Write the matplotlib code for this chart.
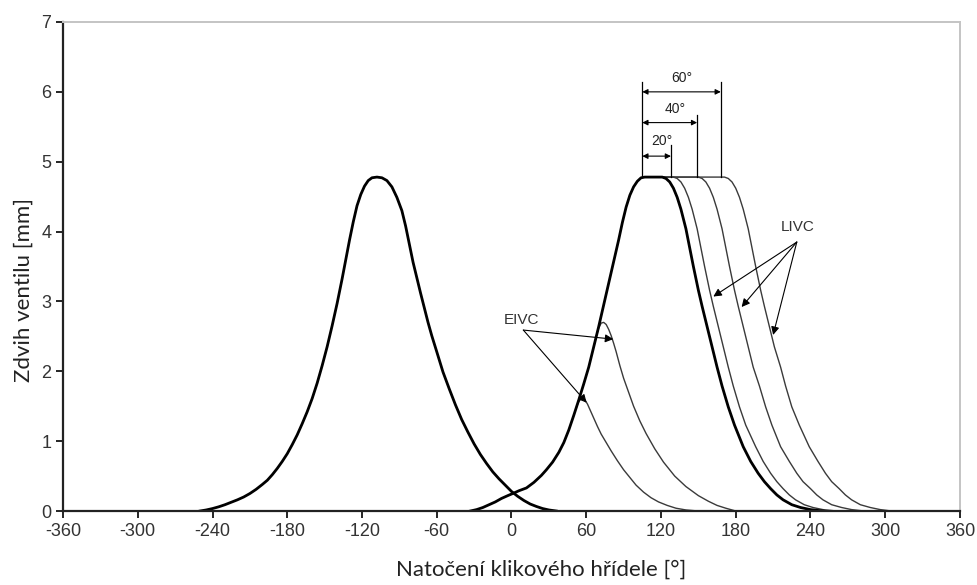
import matplotlib
matplotlib.use("Agg")
import matplotlib.pyplot as plt

plt.rcParams["axes.unicode_minus"] = False

# exhaust valve lift
exh_x = [-250, -245, -240, -235, -230, -225, -220, -215, -210, -205, -200, -196, -192, -188,
         -184, -180, -176, -172, -168, -164, -160, -156, -152, -148, -144, -140, -136, -133,
         -130, -127, -124, -121, -118, -115, -112, -108, -104, -100, -96, -92, -88, -85, -82,
         -79, -76, -73, -70, -67, -64, -60, -55, -50, -45, -40, -35, -30, -25, -20, -15, -10,
         -5, 0, 5, 10, 15, 20, 25, 30, 36]
exh_y = [0, 0.015, 0.035, 0.06, 0.09, 0.125, 0.16, 0.20, 0.25, 0.31, 0.38, 0.44, 0.52, 0.61,
         0.71, 0.82, 0.95, 1.09, 1.25, 1.42, 1.61, 1.83, 2.08, 2.35, 2.65, 2.97, 3.32, 3.60,
         3.88, 4.14, 4.37, 4.53, 4.65, 4.73, 4.77, 4.78, 4.77, 4.73, 4.64, 4.49, 4.30, 4.08,
         3.82, 3.56, 3.34, 3.12, 2.91, 2.70, 2.51, 2.28, 1.99, 1.75, 1.52, 1.31, 1.13, 0.96,
         0.81, 0.68, 0.56, 0.46, 0.37, 0.28, 0.21, 0.15, 0.10, 0.065, 0.035, 0.015, 0]

# base intake valve lift
int_x = [-33, -28, -23, -18, -13, -8, -3, 1, 6, 12, 18, 24, 28, 33, 38, 42, 46, 50, 54, 58,
         62, 66, 70, 74, 78, 82, 86, 89, 92, 95, 98, 101, 104, 107, 121, 124, 127, 130, 133,
         136, 140, 143, 146, 150, 153, 157, 161, 165, 169, 174, 179, 186, 192, 198, 203, 208,
         213, 218, 225, 232, 240, 250]
int_y = [0, 0.02, 0.05, 0.09, 0.13, 0.18, 0.22, 0.25, 0.29, 0.33, 0.41, 0.51, 0.59, 0.70,
         0.84, 0.98, 1.16, 1.37, 1.59, 1.82, 2.06, 2.35, 2.64, 2.95, 3.26, 3.57, 3.88, 4.13,
         4.35, 4.52, 4.64, 4.72, 4.77, 4.78, 4.78, 4.76, 4.71, 4.62, 4.49, 4.32, 4.04, 3.77,
         3.50, 3.16, 2.93, 2.64, 2.35, 2.06, 1.79, 1.49, 1.23, 0.92, 0.71, 0.54, 0.42, 0.32,
         0.23, 0.16, 0.09, 0.05, 0.02, 0]

# early intake valve closing
eivc1_x = [52, 53.5, 55, 57, 59, 61, 63, 66, 69, 72, 76, 80, 85, 90, 95, 100, 106, 112, 118,
           125, 132, 140, 150]
eivc1_y = [1.48, 1.55, 1.59, 1.61, 1.59, 1.53, 1.45, 1.33, 1.21, 1.10, 0.98, 0.86, 0.72, 0.59,
           0.48, 0.37, 0.27, 0.19, 0.13, 0.08, 0.04, 0.015, 0]
eivc2_x = [66, 68, 70, 72, 74, 76, 78, 80, 82, 84, 87, 90, 94, 98, 103, 108, 115, 122, 131,
           140, 150, 158, 165, 172, 180]
eivc2_y = [2.35, 2.50, 2.62, 2.69, 2.70, 2.67, 2.60, 2.51, 2.40, 2.28, 2.08, 1.90, 1.70, 1.50,
           1.29, 1.11, 0.89, 0.70, 0.50, 0.35, 0.22, 0.14, 0.08, 0.04, 0]

# late intake valve closing (same closing ramp, later)
livc_y = [4.78, 4.78, 4.76, 4.71, 4.62, 4.49, 4.32, 4.04, 3.77, 3.50, 3.16, 2.93, 2.64, 2.35,
          2.06, 1.79, 1.49, 1.23, 0.92, 0.71, 0.54, 0.42, 0.32, 0.23, 0.16, 0.09, 0.05, 0.02, 0]
livc1_x = [115, 130, 133, 136, 139, 142, 145, 149, 152, 155, 159, 162, 166, 170, 174, 178,
           183, 188, 196, 202, 208, 213, 218, 223, 228, 235, 242, 250, 261]
livc2_x = [115, 150, 153, 156, 159, 162, 165, 169, 172, 175, 179, 182, 186, 190, 194, 199,
           204, 209, 216, 223, 229, 234, 240, 245, 250, 257, 265, 273, 283]
livc3_x = [115, 171, 174, 177, 180, 183, 186, 190, 193, 196, 200, 203, 207, 211, 216, 220,
           225, 231, 239, 246, 252, 257, 263, 268, 273, 280, 288, 296, 305]

# dimension marks on top
dim_start = 105
dim_ends = [128, 149, 168]
dim_levels = [5.08, 5.56, 6.0]
dim_tops = [5.24, 5.67, 6.14]
dim_labels = ["20°", "40°", "60°"]
dim_label_x = [120.5, 131, 136.5]
dim_label_y = [5.29, 5.75, 6.2]

xticks = list(range(-360, 361, 60))
yticks = list(range(0, 8))

fig = plt.figure(figsize=(9.78, 5.85), dpi=100)
ax = fig.add_axes([63 / 978, 74 / 585, 897 / 978, 489 / 585])

thin = dict(color="#3a3a3a", lw=1.0, solid_joinstyle="round")
bold = dict(color="black", lw=2.0, solid_joinstyle="round")

for xs, ys in [(eivc1_x, eivc1_y), (eivc2_x, eivc2_y), (livc1_x, livc_y),
               (livc2_x, livc_y), (livc3_x, livc_y)]:
    ax.plot(xs, ys, **thin)
ax.plot(exh_x, exh_y, **bold)
ax.plot(int_x, int_y, **bold)

# dimension lines
ax.plot([dim_start, dim_start], [4.78, dim_tops[-1]], color="black", lw=0.9)
for end, lev, top, lab, lx, ly in zip(dim_ends, dim_levels, dim_tops, dim_labels,
                                      dim_label_x, dim_label_y):
    ax.plot([end, end], [4.78, top], color="black", lw=0.9)
    ax.annotate("", xy=(dim_start, lev), xytext=(end, lev),
                arrowprops=dict(arrowstyle="<|-|>", color="black", lw=0.8,
                                mutation_scale=8, shrinkA=0, shrinkB=0))
    ax.text(lx, ly, lab, ha="center", va="center", fontsize=10,
            family="Liberation Sans", color="#222222")

# EIVC / LIVC arrows
arw = dict(arrowstyle="-|>", color="black", lw=0.8, mutation_scale=12, shrinkA=0, shrinkB=0)
ax.text(8, 2.73, "EIVC", ha="center", va="center", fontsize=11,
        family="Liberation Sans", color="#333333")
ax.annotate("", xy=(81.7, 2.46), xytext=(9.5, 2.59), arrowprops=arw)
ax.annotate("", xy=(60.3, 1.55), xytext=(9.5, 2.59), arrowprops=arw)
ax.text(229.5, 4.07, "LIVC", ha="center", va="center", fontsize=11,
        family="Liberation Sans", color="#333333")
ax.annotate("", xy=(162, 3.07), xytext=(229, 3.85), arrowprops=arw)
ax.annotate("", xy=(184.7, 2.92), xytext=(229, 3.85), arrowprops=arw)
ax.annotate("", xy=(210, 2.52), xytext=(229, 3.85), arrowprops=arw)

ax.set_xlim(-360, 360)
ax.set_ylim(0, 7)
ax.set_xticks(xticks)
ax.set_yticks(yticks)
ax.tick_params(direction="out", length=5, width=1.2, labelsize=13, colors="black",
               labelcolor="#333333")
for lab in ax.get_xticklabels() + ax.get_yticklabels():
    lab.set_family("Liberation Sans")
for s in ["left", "bottom"]:
    ax.spines[s].set_linewidth(1.6)
    ax.spines[s].set_color("#222222")
for s in ["top", "right"]:
    ax.spines[s].set_linewidth(1.4)
    ax.spines[s].set_color("#c4c4c4")

fig.text(541 / 978, 1 - 570 / 585, "Natočení klikového hřídele [°]", ha="center", va="center",
         fontsize=16, family="Lato", color="#222222")
fig.text(24 / 978, 1 - 290 / 585, "Zdvih ventilu [mm]", ha="center", va="center",
         rotation=90, fontsize=16, family="Lato", color="#222222")

fig.savefig("out.png", dpi=100)
